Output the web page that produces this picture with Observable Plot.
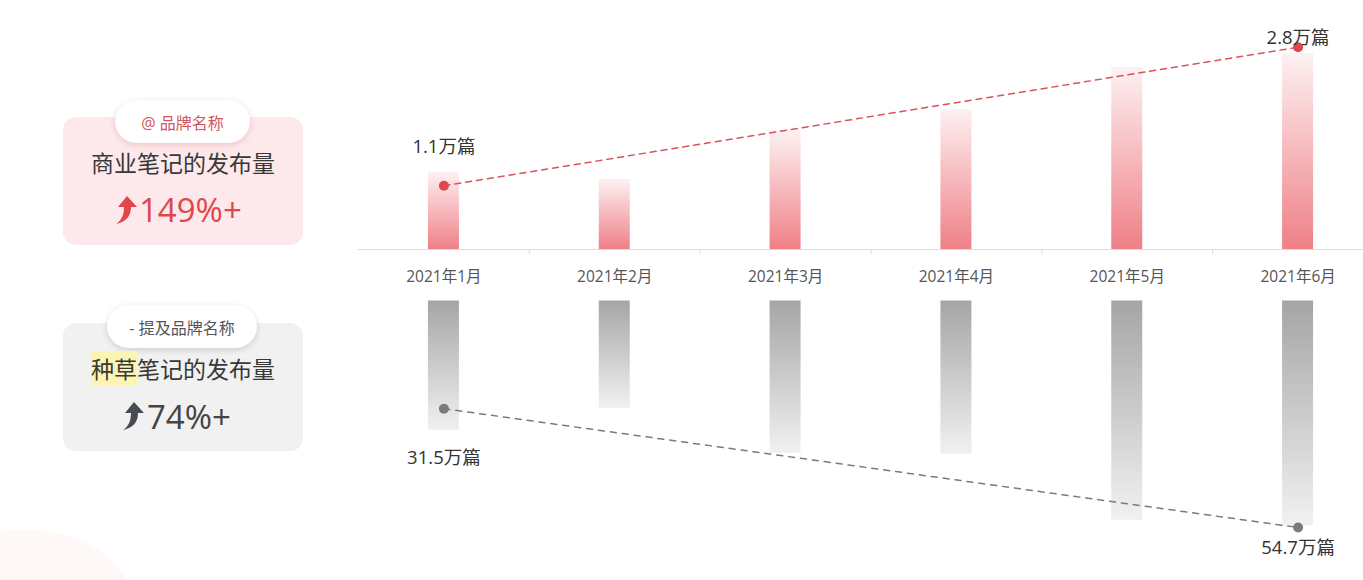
<!DOCTYPE html>
<html><head><meta charset="utf-8">
<script src="https://cdn.jsdelivr.net/npm/d3@7"></script>
<script src="https://cdn.jsdelivr.net/npm/@observablehq/plot@0.6"></script>
<style>
body{margin:0;background:#fff;font-family:"Open Sans","Noto Sans CJK SC",sans-serif;}
#wrap{position:relative;width:1363px;height:580px;overflow:hidden;background:#fff;}
.blob{position:absolute;left:-80px;top:530px;width:210px;height:140px;border-radius:50%;background:#fdf3f1;opacity:.6;}
.panel{position:absolute;left:63px;width:240px;height:128px;border-radius:13px;}
.pink{top:117px;background:#fde9eb;}
.gray{top:323px;background:#f1f1f1;}
.pill{position:absolute;height:43px;border-radius:22px;background:#fff;display:flex;align-items:center;justify-content:center;font-size:16px;font-family:"Open Sans","Noto Sans CJK SC",sans-serif;}
.pill1{left:115px;top:100px;width:135px;color:#d2565d;box-shadow:0 2px 6px rgba(225,150,155,.45);}
.pill2{left:107px;top:305px;width:150px;color:#555;box-shadow:0 2px 6px rgba(0,0,0,.15);}
.title{position:absolute;left:63px;width:240px;text-align:center;font-size:23px;color:#383838;line-height:30px;font-family:"Noto Sans CJK SC",sans-serif;}
.t1{top:147px;}
.t2{top:353px;}
.hl{background:#fbf4b3;}
.big{position:absolute;font-size:33px;line-height:40px;font-family:"Open Sans",sans-serif;}
.b1{left:139px;top:190px;color:#e0474c;}
.b2{left:147px;top:397px;color:#444;}
.arrow{position:absolute;}
#top,#bottom{position:absolute;left:0;}
#top{top:0;}
#bottom{top:300px;}
</style></head><body>
<div id="wrap">
  <div class="blob"></div>
  <div class="panel pink"></div>
  <div class="pill pill1">@ 品牌名称</div>
  <div class="title t1">商业笔记的发布量</div>
  <svg class="arrow" style="left:114px;top:195px" width="24" height="30" viewBox="0 0 24 30">
    <path d="M13 1 L23 12 L17 12 C17 21 12 27 2 29 C8 25 10 19 10 12 L4 12 Z" fill="#e0474c"/>
  </svg>
  <div class="big b1">149%+</div>
  <div class="panel gray"></div>
  <div class="pill pill2">- 提及品牌名称</div>
  <div class="title t2"><span class="hl">种草</span>笔记的发布量</div>
  <svg class="arrow" style="left:121px;top:401px" width="24" height="30" viewBox="0 0 24 30">
    <path d="M13 1 L23 12 L17 12 C17 21 12 27 2 29 C8 25 10 19 10 12 L4 12 Z" fill="#474b52"/>
  </svg>
  <div class="big b2">74%+</div>
  <div id="top"></div>
  <div id="bottom"></div>
</div>
<script>
// ---- data ----
const months = ["2021年1月", "2021年2月", "2021年3月", "2021年4月", "2021年5月", "2021年6月"];
const commercialNotes = [1.1, 1.0, 1.7, 2.0, 2.6, 2.8];        // 万篇 (商业笔记)
const mentionNotes = [31.5, 26.2, 37.1, 37.3, 53.4, 54.7];     // 万篇 (种草笔记)
const trendMonths = ["2021年1月", "2021年6月"];
const trendTopValues = [0.91, 2.89];
const trendBottomValues = [26.2, 55.1];
const topLabels = ["1.1万篇", "2.8万篇"];
const bottomLabels = ["31.5万篇", "54.7万篇"];

const topData = months.map((m, i) => ({month: m, v: commercialNotes[i]}));
const bottomData = months.map((m, i) => ({month: m, v: mentionNotes[i]}));
const topTrend = trendMonths.map((m, i) => ({month: m, v: trendTopValues[i], label: topLabels[i]}));
const bottomTrend = trendMonths.map((m, i) => ({month: m, v: trendBottomValues[i], label: bottomLabels[i]}));

const font = '"Open Sans","Noto Sans CJK SC",sans-serif';

function gradientDefs() {
  const defs = d3.create("svg:defs");
  const g1 = defs.append("linearGradient").attr("id", "gradRed").attr("x1", 0).attr("y1", 0).attr("x2", 0).attr("y2", 1);
  g1.append("stop").attr("offset", "0%").attr("stop-color", "#fdf1f2");
  g1.append("stop").attr("offset", "100%").attr("stop-color", "#ef8087");
  const g2 = defs.append("linearGradient").attr("id", "gradGray").attr("x1", 0).attr("y1", 0).attr("x2", 0).attr("y2", 1);
  g2.append("stop").attr("offset", "0%").attr("stop-color", "#a5a5a5");
  g2.append("stop").attr("offset", "100%").attr("stop-color", "#f1f1f1");
  return defs.node();
}

const xOpts = {type: "band", domain: months, range: [358, 1383], padding: 0, round: false};
const step = 1025 / 6;
const inset = (step - 31) / 2;

const topPlot = Plot.plot({
  width: 1363, height: 300,
  marginLeft: 358, marginRight: 0, marginTop: 0, marginBottom: 51,
  style: {background: "transparent", fontFamily: font, overflow: "visible"},
  x: xOpts,
  y: {domain: [0, 3.557], range: [249, 0], axis: null},
  marks: [
    gradientDefs,
    Plot.barY(topData, {x: "month", y: "v", fill: "url(#gradRed)", insetLeft: inset, insetRight: inset}),
    Plot.ruleY([0], {stroke: "#dcdcdc", strokeWidth: 1.2}),
    Plot.ruleX(months.slice(1), {x: d => d, y1: 0, y2: -0.075, dx: -step / 2, stroke: "#dcdcdc"}),
    Plot.axisX({tickSize: 0, tickPadding: 21, fontSize: 15.5, color: "#555", label: null}),
    Plot.line(topTrend, {x: "month", y: "v", stroke: "#d9535b", strokeWidth: 1.5, strokeDasharray: "6,5"}),
    Plot.dot(topTrend, {x: "month", y: "v", r: 5, fill: "#e0474c", stroke: "none"}),
    Plot.text(topTrend.slice(0, 1), {x: "month", y: "v", text: "label", dy: -39, fontSize: 18.5, fill: "#333"}),
    Plot.text(topTrend.slice(1), {x: "month", y: "v", text: "label", dy: -9, fontSize: 18.5, fill: "#333"})
  ]
});
document.getElementById("top").appendChild(topPlot);

const bottomPlot = Plot.plot({
  width: 1363, height: 280,
  marginLeft: 358, marginRight: 0, marginTop: 0, marginBottom: 0,
  style: {background: "transparent", fontFamily: font, overflow: "visible"},
  x: {...xOpts, axis: null},
  y: {domain: [0, 68], range: [0.5, 280], axis: null},
  marks: [
    gradientDefs,
    Plot.barY(bottomData, {x: "month", y1: 0, y2: "v", fill: "url(#gradGray)", insetLeft: inset, insetRight: inset}),
    Plot.line(bottomTrend, {x: "month", y: "v", stroke: "#7a7a7a", strokeWidth: 1.5, strokeDasharray: "6,6"}),
    Plot.dot(bottomTrend, {x: "month", y: "v", r: 5, fill: "#7a7a7a", stroke: "none"}),
    Plot.text(bottomTrend.slice(0, 1), {x: "month", y: "v", text: "label", dy: 49, fontSize: 18.5, fill: "#333"}),
    Plot.text(bottomTrend.slice(1), {x: "month", y: "v", text: "label", dy: 21, fontSize: 18.5, fill: "#333"})
  ]
});
document.getElementById("bottom").appendChild(bottomPlot);
</script>
</body></html>
